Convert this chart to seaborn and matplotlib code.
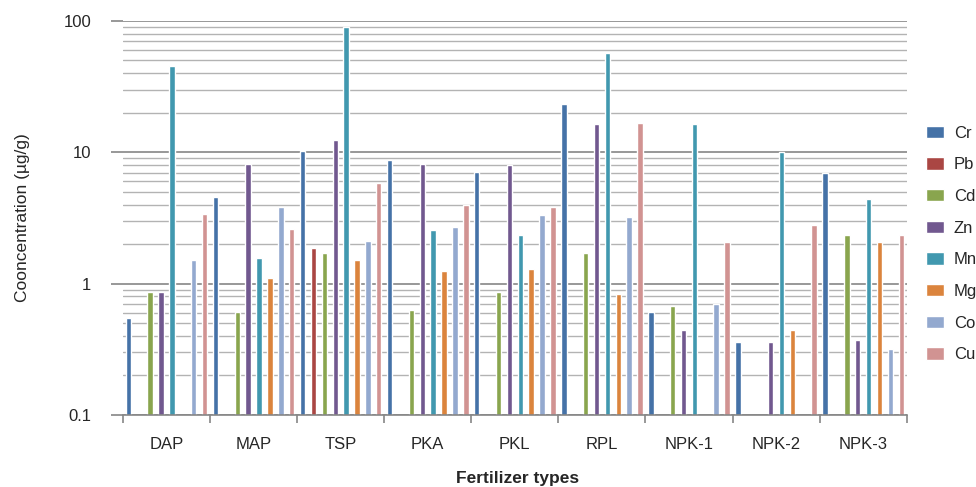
import matplotlib
matplotlib.use("Agg")
import matplotlib.pyplot as plt
import matplotlib.ticker as mticker
import numpy as np
import pandas as pd
import seaborn as sns

# fertilizer groups and metals
FERTILIZERS = ["DAP", "MAP", "TSP", "PKA", "PKL", "RPL", "NPK-1", "NPK-2", "NPK-3"]
METALS = ["Cr", "Pb", "Cd", "Zn", "Mn", "Mg", "Co", "Cu"]
nan = np.nan

# concentrations in ug/g, one list per metal (NaN = not detected)
cr = [0.55, 4.6, 10.3, 8.8, 7.1, 23.5, 0.61, 0.36, 7.0]
pb = [nan, nan, 1.88, nan, nan, nan, nan, nan, nan]
cd = [0.87, 0.61, 1.72, 0.63, 0.87, 1.72, 0.68, nan, 2.36]
zn = [0.87, 8.07, 12.5, 8.07, 7.93, 16.5, 0.44, 0.36, 0.375]
mn = [45.0, 1.58, 90.0, 2.58, 2.36, 57.5, 16.5, 10.1, 4.44]
mg = [nan, 1.11, 1.50, 1.24, 1.30, 0.84, nan, 0.44, 2.06]
co = [1.50, 3.8, 2.12, 2.72, 3.35, 3.24, 0.70, nan, 0.32]
cu = [3.41, 2.62, 5.87, 4.0, 3.86, 16.8, 2.06, 2.77, 2.36]

COLORS = ["#4572A7", "#AA4643", "#89A54E", "#71588F",
          "#4198AF", "#DB843D", "#93A9CF", "#D19392"]

series = dict(zip(METALS, [cr, pb, cd, zn, mn, mg, co, cu]))
df = pd.DataFrame(series, index=FERTILIZERS).reset_index(names="fert")
long = df.melt(id_vars="fert", var_name="metal", value_name="conc").dropna()

sns.set_theme(style="white")
plt.rcParams["font.family"] = ["Liberation Sans", "DejaVu Sans"]

fig = plt.figure(figsize=(9.76, 4.87), dpi=100)
ax = fig.add_axes([0.126, 0.148, 0.803, 0.809])
ax.set_yscale("log")

sns.barplot(data=long, x="fert", y="conc", hue="metal",
            order=FERTILIZERS, hue_order=METALS, palette=COLORS,
            width=1.0, gap=0.5, errorbar=None, saturation=1, ax=ax)

ax.set_ylim(0.1, 100)
ax.set_xlim(-0.5, len(FERTILIZERS) - 0.5)

# gridlines: darker for decades, lighter for in-between values
ax.yaxis.set_major_locator(mticker.LogLocator(base=10))
ax.yaxis.set_minor_locator(mticker.LogLocator(base=10, subs=np.arange(2, 10)))
ax.yaxis.set_major_formatter(mticker.FuncFormatter(lambda v, _: f"{v:g}"))
ax.yaxis.set_minor_formatter(mticker.NullFormatter())
ax.grid(axis="y", which="major", color="#868686", lw=1.2, ls="-")
ax.grid(axis="y", which="minor", color="#b3b3b3", lw=1.0, ls="-")
ax.set_axisbelow(True)

for side in ["top", "right", "left"]:
    ax.spines[side].set_visible(False)
ax.spines["bottom"].set_color("#868686")
ax.spines["bottom"].set_linewidth(1.2)

ax.tick_params(axis="y", which="major", left=True, length=9, width=1.2,
               color="#868686", labelsize=12, pad=14)
ax.tick_params(axis="y", which="minor", left=False)

# x: labels centered, small ticks at group boundaries
ax.xaxis.set_minor_locator(mticker.FixedLocator(np.arange(-0.5, len(FERTILIZERS), 1.0)))
ax.tick_params(axis="x", which="major", bottom=False, labelsize=12, pad=10)
ax.tick_params(axis="x", which="minor", bottom=True, length=6, width=1.2,
               color="#868686")

ax.set_xlabel("")
fig.text(0.53, 0.002, "Fertilizer types", ha="center", va="bottom",
         fontsize=12.5, fontweight="bold")
ax.set_ylabel("Cooncentration (µg/g)", fontsize=12.5, labelpad=24)

handles, labels = ax.get_legend_handles_labels()
ax.legend(handles, labels, loc="center left", bbox_to_anchor=(0.9415, 0.499),
          bbox_transform=fig.transFigure, frameon=False, fontsize=12,
          handlelength=1.1, handleheight=0.75, handletextpad=0.6,
          labelspacing=1.0, borderaxespad=0)

fig.savefig("out.png", dpi=100)
